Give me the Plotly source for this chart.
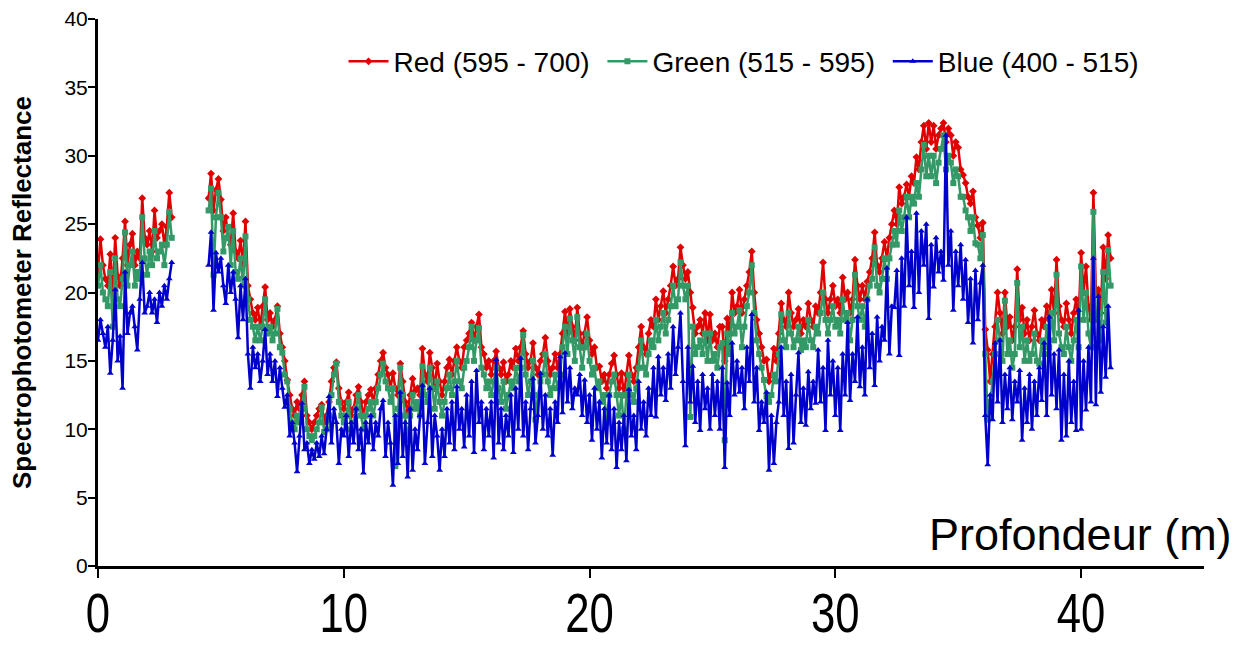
import numpy as np
import plotly.graph_objects as go

# Core 1: 0.0 - 3.0 m, sampled every 0.1 m
red_upper = [21.5, 23.9, 22.0, 21.0, 20.5, 22.8, 20.0, 24.0, 21.2, 20.5,
             22.5, 25.2, 22.0, 23.5, 24.3, 22.0, 23.0, 22.5, 26.9, 24.0,
             23.5, 24.5, 23.0, 26.0, 24.0, 24.5, 25.0, 23.5, 24.8, 27.3, 25.5]
green_upper = [20.5, 22.0, 20.0, 19.5, 19.0, 21.5, 17.5, 22.5, 19.5, 19.0,
               21.0, 24.4, 20.5, 22.0, 23.0, 20.5, 21.5, 21.0, 25.5, 22.5,
               21.3, 23.0, 22.0, 24.5, 22.5, 23.0, 23.5, 22.0, 23.5, 25.9, 24.0]
blue_upper = [16.5, 18.0, 17.0, 16.0, 17.5, 14.1, 16.5, 20.2, 15.0, 16.8,
              13.0, 21.5, 17.0, 18.5, 19.0, 17.5, 15.8, 19.5, 22.2, 18.5,
              19.0, 20.0, 18.5, 19.5, 17.8, 20.0, 19.0, 20.5, 19.5, 21.0, 22.2]

# Core 2: 4.5 - 41.2 m, sampled every 0.1 m (one row per metre)
red_lower = [
    26.9, 28.7, 26.0, 27.5, 28.3,
    26.8, 24.5, 25.5, 24.0, 23.5, 25.8, 23.0, 22.5, 23.8, 22.0,
    25.2, 20.5, 19.5, 18.5, 18.0, 18.9, 17.5, 19.0, 20.4, 18.0,
    18.5, 17.5, 18.0, 19.0, 17.0, 16.0, 15.0, 13.6, 12.5, 11.5,
    11.0, 12.0, 11.5, 12.5, 13.5, 11.0, 10.5, 10.0, 10.5, 11.0,
    11.5, 11.8, 10.5, 11.0, 12.0, 13.5, 14.5, 14.9, 13.0, 12.0,
    11.5, 12.0, 12.7, 11.0, 11.5, 12.5, 13.1, 12.0, 11.0, 12.0,
    12.5, 12.9, 12.0, 13.0, 14.0, 15.0, 15.6, 14.5, 14.0, 13.0,
    14.1, 13.0, 12.5, 14.8, 13.5, 12.0, 11.3, 12.5, 13.7, 12.8,
    13.0, 12.5, 15.9, 14.0, 13.5, 15.6, 14.5, 13.0, 14.8, 13.5,
    12.5, 13.5, 14.5, 15.1, 14.0, 15.0, 16.0, 15.0, 14.5, 16.0,
    16.5, 17.0, 17.8, 16.5, 17.5, 18.4, 16.0, 15.5, 14.5, 15.0,
    14.0, 15.0, 15.7, 14.5, 14.0, 14.9, 13.5, 14.0, 15.0, 14.5,
    15.9, 15.0, 16.0, 17.2, 15.5, 14.5, 15.0, 16.3, 14.5, 14.0,
    15.0, 15.5, 16.7, 15.0, 14.0, 14.5, 15.5, 14.5, 15.5, 17.0,
    18.6, 17.0, 18.8, 17.5, 16.5, 18.9, 17.0, 16.0, 17.0, 18.2,
    16.5, 15.5, 16.0, 14.5, 14.6, 13.5, 14.0, 13.0, 14.0, 14.8,
    15.4, 14.0, 13.0, 14.1, 12.5, 14.0, 15.4, 14.0, 13.5, 14.5,
    16.0, 17.5, 16.0, 15.5, 17.0, 18.0, 17.5, 19.5, 18.0, 19.0,
    20.1, 18.5, 19.5, 20.5, 21.9, 20.5, 21.0, 23.3, 22.0, 21.0,
    21.5, 20.0, 18.9, 17.0, 17.5, 18.0, 17.0, 18.5, 16.5, 18.4,
    16.5, 17.0, 16.0, 17.5, 17.5, 15.0, 18.1, 17.0, 20.0, 18.5,
    19.0, 20.2, 18.5, 19.5, 20.5, 21.5, 23.0, 20.0, 18.0, 17.0,
    16.0, 15.0, 15.1, 13.5, 14.0, 15.9, 15.0, 17.0, 19.2, 18.0,
    17.5, 20.0, 18.5, 17.5, 18.0, 18.8, 17.0, 18.0, 17.5, 19.2,
    18.0, 17.5, 19.0, 18.5, 20.0, 22.2, 19.5, 18.5, 19.5, 20.5,
    19.0, 19.5, 18.5, 21.1, 19.5, 20.0, 18.5, 19.5, 22.4, 20.5,
    19.5, 20.5, 19.5, 20.8, 21.5, 22.5, 24.4, 22.0, 21.5, 22.5,
    23.7, 22.5, 24.0, 25.0, 26.0, 25.0, 27.7, 26.5, 27.0, 27.9,
    27.0, 28.5, 28.0, 29.9, 29.0, 31.0, 32.2, 30.5, 32.4, 31.0,
    32.2, 30.5, 31.5, 32.0, 32.4, 31.0, 32.0, 31.5, 30.0, 31.0,
    30.6, 29.0, 28.6, 28.0, 27.0, 26.5, 27.4, 25.5, 24.9, 24.0,
    25.1, 17.3, 15.8, 13.5, 15.5, 17.5, 20.0, 18.5, 17.0, 20.0,
    17.5, 18.2, 16.5, 17.5, 21.7, 18.0, 18.9, 17.0, 18.0, 16.5,
    17.5, 18.7, 17.0, 16.5, 18.0, 17.5, 19.0, 18.0, 20.2, 18.5,
    22.4, 19.0, 18.0, 17.5, 19.2, 18.0, 17.0, 18.5, 19.5, 18.0,
    22.9, 20.0, 21.9, 19.0, 18.0, 27.3, 20.0, 20.2, 18.5, 23.3,
    21.0, 24.2, 22.5,
]
green_lower = [
    26.0, 27.6, 21.3, 25.5, 27.3,
    25.5, 23.0, 24.0, 24.8, 22.0, 24.5, 21.5, 21.0, 22.5, 20.5,
    24.1, 19.5, 18.0, 17.5, 16.5, 17.5, 16.5, 17.5, 19.5, 17.0,
    17.5, 16.5, 17.0, 18.8, 16.0, 15.6, 14.0, 13.5, 11.5, 10.5,
    10.0, 11.0, 10.5, 11.5, 13.1, 10.0, 9.5, 9.2, 9.5, 10.0,
    10.5, 11.6, 9.8, 10.0, 11.0, 12.5, 14.0, 14.8, 12.0, 11.0,
    10.5, 11.0, 12.0, 10.0, 10.5, 11.5, 12.5, 11.0, 10.0, 11.0,
    11.5, 12.0, 11.0, 12.0, 13.0, 14.0, 14.8, 13.5, 13.0, 12.0,
    13.0, 7.3, 11.5, 14.5, 12.5, 11.0, 9.2, 11.0, 12.5, 11.5,
    12.0, 11.0, 14.6, 12.5, 12.0, 14.5, 13.0, 11.5, 13.5, 12.0,
    11.0, 12.0, 13.0, 14.0, 12.5, 13.5, 15.0, 13.5, 13.0, 14.5,
    15.0, 16.0, 17.5, 15.0, 16.5, 17.4, 14.5, 14.0, 13.0, 13.5,
    12.5, 13.5, 14.5, 13.0, 12.0, 13.5, 11.5, 12.5, 13.5, 13.0,
    14.5, 13.5, 14.5, 16.9, 14.0, 12.5, 13.5, 15.0, 10.7, 12.5,
    13.5, 14.0, 15.5, 13.5, 12.5, 13.0, 14.0, 13.0, 14.0, 16.0,
    17.5, 15.5, 18.1, 16.5, 15.0, 18.2, 16.0, 14.5, 16.0, 17.0,
    15.0, 14.0, 14.5, 13.0, 13.5, 12.0, 12.5, 10.5, 12.5, 13.5,
    14.0, 12.5, 11.0, 12.5, 10.0, 12.5, 14.0, 12.5, 12.0, 13.0,
    14.5, 16.5, 14.5, 14.0, 15.5, 16.5, 16.0, 18.0, 16.5, 17.5,
    18.5, 17.0, 18.0, 19.0, 20.5, 19.0, 19.5, 22.2, 20.5, 19.5,
    20.5, 10.9, 17.5, 15.5, 16.0, 16.5, 15.5, 17.0, 15.0, 17.0,
    15.0, 15.5, 14.5, 16.0, 16.3, 9.2, 17.0, 15.5, 18.5, 17.0,
    17.5, 18.7, 16.0, 17.5, 19.0, 20.0, 22.0, 18.5, 16.5, 15.5,
    14.5, 13.6, 12.4, 12.0, 12.5, 14.0, 13.5, 15.5, 18.4, 16.5,
    16.0, 18.5, 17.0, 16.0, 16.5, 17.5, 15.8, 16.5, 16.0, 18.0,
    16.5, 16.0, 17.5, 17.0, 18.5, 20.0, 18.0, 17.0, 18.0, 19.0,
    17.5, 18.0, 17.0, 19.5, 18.0, 18.5, 16.5, 18.0, 21.3, 19.0,
    18.0, 19.0, 17.5, 19.5, 20.5, 21.0, 23.3, 20.5, 20.0, 21.0,
    22.5, 21.0, 22.5, 23.5, 24.5, 23.5, 26.0, 24.5, 25.5, 27.0,
    25.5, 27.0, 26.5, 28.0, 27.0, 29.0, 30.8, 28.5, 30.0, 28.5,
    30.0, 28.0, 29.5, 30.5, 31.5, 29.0, 30.0, 29.5, 28.0, 29.0,
    28.5, 27.0, 27.0, 26.0, 25.5, 24.5, 25.5, 23.6, 23.5, 22.5,
    24.2, 15.5, 10.7, 12.0, 13.5, 15.5, 18.0, 16.5, 15.0, 19.4,
    15.5, 16.5, 14.5, 15.5, 20.7, 16.0, 17.5, 15.0, 16.5, 15.0,
    15.5, 17.0, 15.0, 14.8, 16.5, 15.5, 17.5, 16.0, 18.5, 16.5,
    21.3, 17.0, 16.0, 15.5, 17.5, 16.0, 15.0, 16.5, 18.0, 16.0,
    21.9, 18.0, 20.0, 17.0, 16.0, 25.9, 18.0, 18.5, 16.5, 21.5,
    17.8, 23.1, 20.5,
]
blue_lower = [
    22.0, 24.4, 18.7, 22.9, 21.5,
    22.5, 20.5, 19.2, 22.0, 20.0, 21.5, 19.5, 16.7, 20.5, 18.0,
    21.0, 15.5, 13.0, 16.0, 14.5, 15.5, 13.5, 15.0, 17.3, 14.0,
    15.5, 13.5, 15.0, 12.4, 14.5, 13.0, 11.6, 12.5, 9.5, 10.5,
    9.0, 6.9, 9.5, 11.9, 8.5, 9.0, 7.5, 8.5, 7.8, 9.0,
    8.0, 9.5, 8.2, 10.0, 12.4, 9.0, 11.5, 10.5, 7.5, 10.0,
    9.5, 11.0, 8.0, 10.5, 9.0, 11.5, 8.5, 10.0, 6.8, 10.5,
    9.0, 11.0, 8.5, 10.5, 9.5, 11.5, 12.1, 8.0, 10.5, 9.0,
    5.9, 11.0, 7.5, 12.7, 8.0, 10.5, 6.5, 11.5, 7.0, 10.0,
    8.5, 11.0, 13.2, 7.5, 10.5, 13.0, 8.0, 11.0, 9.5, 7.0,
    10.0, 8.0, 11.5, 9.0, 12.0, 8.5, 13.1, 10.0, 11.5, 8.7,
    12.5, 9.5, 13.5, 8.3, 14.3, 10.5, 12.0, 8.5, 11.5, 9.5,
    12.0, 7.9, 15.1, 9.0, 11.5, 8.5, 11.0, 9.5, 12.5, 8.3,
    13.0, 10.0, 15.2, 9.5, 12.0, 8.5, 11.5, 13.7, 9.0, 11.0,
    14.1, 10.0, 12.5, 9.5, 11.5, 8.1, 12.0, 10.5, 15.3, 11.2,
    15.6, 12.0, 14.5, 11.5, 13.0, 12.5, 14.0, 11.0, 13.6, 10.5,
    12.5, 9.2, 13.0, 10.0, 12.0, 7.9, 11.5, 9.0, 12.5, 8.5,
    11.5, 7.2, 10.5, 8.5, 11.0, 7.7, 12.9, 9.5, 11.0, 8.5,
    13.5, 10.0, 12.0, 9.5, 13.0, 11.0, 14.5, 10.9, 15.3, 12.5,
    14.5, 12.1, 15.5, 13.0, 17.5, 14.0, 16.0, 18.5, 13.5, 8.8,
    16.0, 12.0, 14.6, 10.5, 13.5, 9.9, 14.0, 11.5, 13.0, 10.0,
    14.0, 11.0, 13.5, 10.0, 14.5, 7.2, 13.4, 11.0, 16.3, 12.5,
    15.0, 12.7, 14.5, 11.5, 16.0, 13.5, 18.4, 12.0, 14.5, 9.9,
    12.0, 10.5, 12.7, 7.0, 11.0, 7.5, 10.5, 12.0, 16.0, 11.0,
    13.5, 8.6, 14.0, 9.0, 12.5, 15.6, 10.5, 13.0, 10.3, 14.2,
    11.5, 13.5, 11.9, 15.8, 12.0, 14.5, 9.9, 16.5, 12.5, 15.0,
    11.0, 14.5, 9.9, 15.5, 12.5, 17.8, 12.1, 15.5, 13.5, 18.2,
    13.1, 16.0, 12.5, 19.5, 14.5, 17.0, 13.2, 18.2, 15.0, 17.5,
    16.5, 21.8, 15.5, 19.0, 18.9, 21.6, 15.4, 22.5, 19.0, 25.5,
    20.5, 23.0, 18.9, 25.8, 20.0, 24.5, 22.0, 25.0, 18.1, 23.5,
    20.4, 24.0, 21.5, 23.0, 20.9, 31.5, 22.0, 24.5, 18.7, 23.0,
    20.5, 23.5, 19.5, 22.4, 17.8, 21.0, 16.3, 21.6, 18.0, 20.7,
    22.0, 11.0, 7.4, 12.5, 10.7, 16.3, 12.0, 16.5, 10.5, 14.0,
    11.5, 14.5, 10.7, 13.5, 12.0, 14.3, 9.2, 13.0, 10.5, 14.0,
    10.0, 13.5, 11.0, 14.5, 12.1, 16.3, 11.0, 18.2, 12.5, 15.5,
    11.5, 15.8, 9.2, 14.0, 9.5, 15.0, 10.5, 13.5, 9.9, 18.7,
    10.0, 15.0, 11.4, 16.0, 12.0, 22.5, 11.8, 19.7, 12.7, 17.5,
    13.8, 19.0, 14.5,
]

x_ticks = [0, 10, 20, 30, 40]
y_ticks = [0, 5, 10, 15, 20, 25, 30, 35, 40]

# Sampling grid of the two core sections
STEP = 0.1
depth_upper = np.round(0.0 + STEP * np.arange(len(red_upper)), 2)
depth_lower = np.round(4.5 + STEP * np.arange(len(red_lower)), 2)

# One trace per band; a None between the sections breaks the line at the gap
depth = list(depth_upper) + [None] + list(depth_lower)


def joined(upper, lower):
    return list(upper) + [None] + list(lower)


NBSP = "\u00a0"
series = [
    ("Red (595 - 700)" + NBSP, joined(red_upper, red_lower), "#E00000", "diamond", 6),
    ("Green (515 - 595)" + NBSP, joined(green_upper, green_lower), "#339966", "square", 6),
    ("Blue (400 - 515)", joined(blue_upper, blue_lower), "#0000CC", "triangle-up", 6),
]

fig = go.Figure()
for name, values, color, symbol, size in series:
    fig.add_trace(go.Scatter(
        x=depth, y=values, name=name, mode="lines+markers",
        line=dict(color=color, width=2.5),
        marker=dict(color=color, symbol=symbol, size=size, line=dict(width=0)),
        connectgaps=False,
    ))

font_main = "Liberation Sans, Arial, sans-serif"

fig.update_layout(
    width=1248, height=645,
    margin=dict(l=98, r=44, t=19, b=79),
    paper_bgcolor="white", plot_bgcolor="white",
    font=dict(family=font_main, color="black"),
    showlegend=True,
    legend=dict(
        orientation="h", x=0.222, xanchor="left", y=0.922, yanchor="middle",
        font=dict(size=28, family=font_main, color="black"),
        itemwidth=40, bgcolor="rgba(0,0,0,0)",
    ),
    xaxis=dict(
        range=[0, 45], tickvals=x_ticks, ticks="outside", ticklen=9, tickwidth=2,
        tickcolor="black", showline=True, linewidth=3, linecolor="black",
        showgrid=False, zeroline=False, automargin=False, ticklabelstandoff=-13,
        tickfont=dict(size=56, family=font_main),
    ),
    yaxis=dict(
        range=[0, 40], tickvals=y_ticks, ticks="outside", ticklen=7, tickwidth=2,
        tickcolor="black", showline=True, linewidth=3, linecolor="black",
        showgrid=False, zeroline=False, automargin=False, ticklabelstandoff=-4,
        tickfont=dict(size=21, family=font_main),
        title=dict(text="<b>Spectrophotometer Reflectance</b>",
                   font=dict(size=26, family=font_main), standoff=26),
    ),
    annotations=[dict(
        text="Profondeur (m)", xref="paper", yref="paper",
        x=1.027, y=0.0585, xanchor="right", yanchor="middle",
        showarrow=False, font=dict(size=45, family=font_main, color="black"),
    )],
)

# Condensed depth tick labels: squeeze each label horizontally about its centre
condense_ticks = """
var gd = document.getElementById('{plot_id}');
gd.querySelectorAll('.xtick text').forEach(function (t) {
    var b = t.getBBox();
    var cx = b.x + b.width / 2;
    var tr = t.getAttribute('transform') || '';
    t.setAttribute('transform', tr + ' translate(' + cx + ',0) scale(0.78,1) translate(' + (-cx) + ',0)');
});
"""

fig.write_html("out.html", post_script=condense_ticks)
